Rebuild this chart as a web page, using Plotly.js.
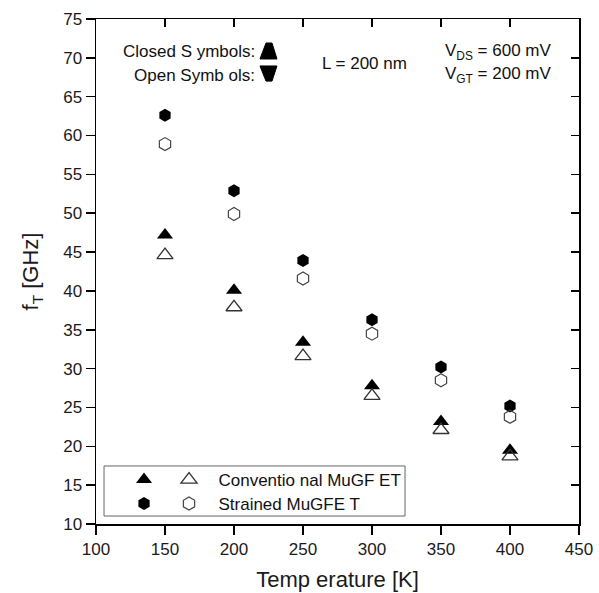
<!DOCTYPE html>
<html>
<head>
<meta charset="utf-8">
<script src="https://cdn.plot.ly/plotly-3.0.1.min.js"></script>
<style>html,body{margin:0;padding:0;background:#fff;}#chart{width:599px;height:593px;}</style>
</head>
<body>
<div id="chart"></div>
<script>
// Data
const temperatures = [150, 200, 250, 300, 350, 400];
const strainedClosed = [62.6, 52.9, 43.9, 36.3, 30.2, 25.2];
const strainedOpen = [58.9, 49.9, 41.6, 34.5, 28.5, 23.8];
const conventionalClosed = [47.2, 40.1, 33.4, 27.8, 23.2, 19.5];
const conventionalOpen = [44.6, 37.9, 31.6, 26.5, 22.1, 18.7];
const xTicks = [100, 150, 200, 250, 300, 350, 400, 450];
const yTicks = [10, 15, 20, 25, 30, 35, 40, 45, 50, 55, 60, 65, 70, 75];
const seriesNames = ["Conventio nal MuGF ET", "Strained MuGFE T"];

const FONT = "Arial, 'Liberation Sans', sans-serif";
const NB = "\u00a0\u00a0";

const traces = [
  {x: temperatures, y: conventionalClosed, mode: "markers", type: "scatter", name: "",
   legend: "legend", marker: {symbol: "triangle-up", size: 14, color: "#000"}},
  {x: temperatures, y: conventionalOpen, mode: "markers", type: "scatter", name: NB + seriesNames[0],
   legend: "legend", marker: {symbol: "triangle-up-open", size: 14, color: "#333", line: {width: 1.3, color: "#333"}}},
  {x: temperatures, y: strainedClosed, mode: "markers", type: "scatter", name: "",
   legend: "legend2", marker: {symbol: "hexagon", size: 13, color: "#000"}},
  {x: temperatures, y: strainedOpen, mode: "markers", type: "scatter", name: NB + seriesNames[1],
   legend: "legend2", marker: {symbol: "hexagon-open", size: 13, color: "#444", line: {width: 1.2, color: "#444"}}},
  // carrier for the mirrored top/right axes (draws nothing)
  {x: temperatures, y: strainedClosed, mode: "none", type: "scatter", xaxis: "x2", yaxis: "y2",
   showlegend: false, hoverinfo: "skip"}
];

const axisCommon = {
  showgrid: false, zeroline: false, showline: true, linecolor: "#000", linewidth: 1.5,
  tickcolor: "#000", tickwidth: 1.5, ticklen: 9
};

const legendCommon = {
  orientation: "h", xanchor: "left", yanchor: "middle", bgcolor: "rgba(0,0,0,0)",
  borderwidth: 0, font: {family: FONT, size: 17, color: "#111"}, itemclick: false, traceorder: "normal"
};

const layout = {
  width: 599, height: 593,
  margin: {l: 96, r: 20, t: 19, b: 69},
  paper_bgcolor: "#fff", plot_bgcolor: "#fff",
  font: {family: FONT, color: "#111"},
  xaxis: Object.assign({}, axisCommon, {
    range: [100, 450], tickvals: xTicks, ticktext: xTicks.map(String), ticks: "outside",
    tickfont: {family: FONT, size: 17, color: "#1a1a1a"},
    title: {text: "Temp erature [K]", font: {family: FONT, size: 22, color: "#1a1a1a"}, standoff: 13}
  }),
  yaxis: Object.assign({}, axisCommon, {
    range: [10, 75], tickvals: yTicks, ticktext: yTicks.map(String), ticks: "outside",
    tickfont: {family: FONT, size: 17, color: "#1a1a1a"},
    title: {text: "f<sub>T</sub> [GHz]", font: {family: FONT, size: 22, color: "#1a1a1a"}, standoff: 18}
  }),
  xaxis2: Object.assign({}, axisCommon, {
    overlaying: "x", side: "top", range: [100, 450], tickvals: xTicks, ticks: "inside",
    ticklen: 8, showticklabels: false
  }),
  yaxis2: Object.assign({}, axisCommon, {
    overlaying: "y", side: "right", range: [10, 75], tickvals: yTicks, ticks: "inside",
    ticklen: 8, showticklabels: false
  }),
  showlegend: true,
  legend: Object.assign({}, legendCommon, {x: 0.058, y: 0.0871}),
  legend2: Object.assign({}, legendCommon, {x: 0.058, y: 0.0396}),
  shapes: [
    // legend frame
    {type: "rect", xref: "paper", yref: "paper", x0: 0.0166, x1: 0.6398, y0: 0.0158, y1: 0.1149,
     line: {color: "#666", width: 1}, fillcolor: "rgba(0,0,0,0)", layer: "above"},
    // closed-symbol key glyph (up trapezoid)
    {type: "path", xref: "paper", yref: "paper",
     path: "M 0.3395 0.9208 L 0.3747 0.9208 L 0.3644 0.9525 L 0.352 0.9525 Z",
     fillcolor: "#000", line: {color: "#000", width: 1}},
    // open-symbol key glyph (down trapezoid)
    {type: "path", xref: "paper", yref: "paper",
     path: "M 0.3395 0.907 L 0.3747 0.907 L 0.3644 0.877 L 0.352 0.877 Z",
     fillcolor: "#000", line: {color: "#000", width: 1}}
  ],
  annotations: [
    {xref: "paper", yref: "paper", x: 0.333, y: 0.935, xanchor: "right", yanchor: "middle", showarrow: false,
     text: "Closed S ymbols:", font: {family: FONT, size: 17, color: "#111"}},
    {xref: "paper", yref: "paper", x: 0.333, y: 0.889, xanchor: "right", yanchor: "middle", showarrow: false,
     text: "Open Symb ols:", font: {family: FONT, size: 17, color: "#111"}},
    {xref: "paper", yref: "paper", x: 0.555, y: 0.911, xanchor: "center", yanchor: "middle", showarrow: false,
     text: "L = 200 nm", font: {family: FONT, size: 17, color: "#111"}},
    {xref: "paper", yref: "paper", x: 0.946, y: 0.935, xanchor: "right", yanchor: "middle", showarrow: false,
     text: "V<sub>DS</sub> = 600 mV", font: {family: FONT, size: 17, color: "#111"}},
    {xref: "paper", yref: "paper", x: 0.946, y: 0.889, xanchor: "right", yanchor: "middle", showarrow: false,
     text: "V<sub>GT</sub> = 200 mV", font: {family: FONT, size: 17, color: "#111"}}
  ]
};

Plotly.newPlot("chart", traces, layout, {staticPlot: true, displayModeBar: false});
</script>
</body>
</html>
